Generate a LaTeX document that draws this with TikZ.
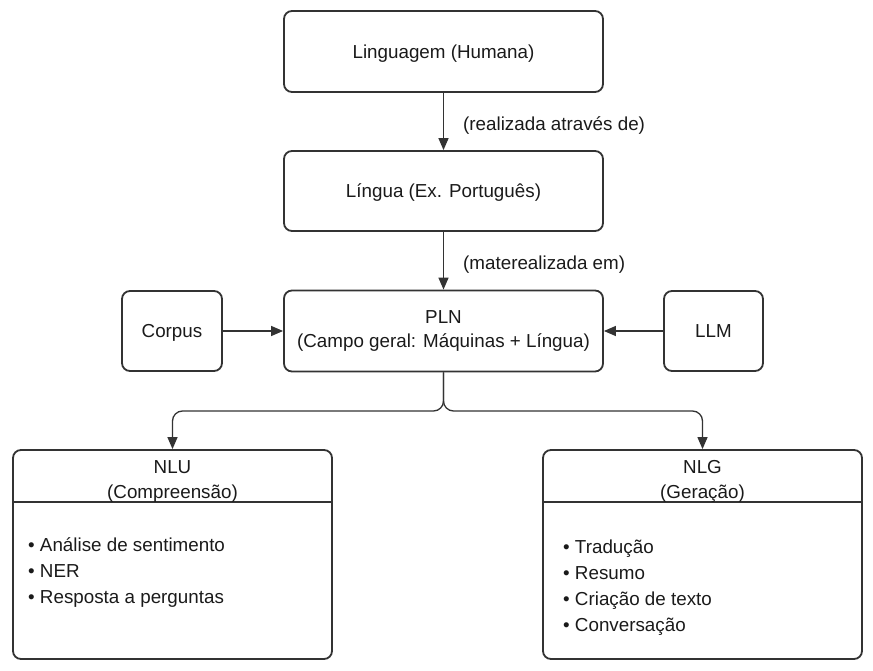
\documentclass[tikz,border=0pt]{standalone}
\usepackage{fontspec}
\setmainfont{Liberation Sans}
\usetikzlibrary{arrows.meta,calc}
\definecolor{strokec}{HTML}{333333}
\definecolor{textc}{HTML}{1A1A1A}
\begin{document}
\begin{tikzpicture}[x=1pt,y=-1pt,
  every node/.style={font=\fontsize{18.8}{24.5}\selectfont, text=textc},
  box/.style={draw=strokec, line width=1.8pt, rounded corners=8pt, inner sep=0pt, align=center},
  onel/.style={text depth=0pt},
  arr/.style={draw=strokec, line width=1.3pt, -{Triangle[length=12pt,width=10pt]}},
  lbl/.style={anchor=west, inner sep=0pt},
  item/.style={anchor=west, inner sep=0pt, align=left, font=\fontsize{18.8}{26}\selectfont}
]
\useasboundingbox (0,0) rectangle (873,671);
% main chain
\node[box, onel, minimum width=319pt, minimum height=81pt] (lang) at (443.5,51.5) {Linguagem (Humana)};
\node[box, onel, minimum width=319pt, minimum height=80pt] (lingua) at (443.5,191) {Língua (Ex. Português)};
\node[box, minimum width=319pt, minimum height=81pt] (pln) at (443.5,331) {PLN\\(Campo geral: Máquinas + Língua)};
\node[box, onel, minimum width=100pt, minimum height=80pt] (corpus) at (172,331) {Corpus};
\node[box, onel, minimum width=99pt, minimum height=80pt] (llm) at (713.5,331) {LLM};
% NLU / NLG
\node[box, minimum width=319pt, minimum height=209pt] (nlu) at (172.5,554.5) {};
\node[box, minimum width=319pt, minimum height=209pt] (nlg) at (702.5,554.5) {};
\draw[strokec, line width=1.8pt] (nlu.west |- 0,502) -- (nlu.east |- 0,502);
\draw[strokec, line width=1.8pt] (nlg.west |- 0,502) -- (nlg.east |- 0,502);
\node[align=center, inner sep=0pt] (nlut) at (172.5,481.5) {NLU\\(Compreensão)};
\node[align=center, inner sep=0pt] (nlgt) at (702.5,481.5) {NLG\\(Geração)};
\node[item] (nlui) at (28,573) {• Análise de sentimento\\• NER\\• Resposta a perguntas};
\node[item] (nlgi) at (563,588) {• Tradução\\• Resumo\\• Criação de texto\\• Conversação};
% connectors
\draw[arr] (lang) -- (lingua);
\draw[arr] (lingua) -- (pln);
\node[lbl] (l1) at (463,126) {(realizada através de)};
\node[lbl] (l2) at (463,265) {(materealizada em)};
\draw[arr] (corpus) -- (pln);
\draw[arr] (llm) -- (pln);
\coordinate (br) at (443.5,411);
\draw[arr, rounded corners=10pt] (pln.south) |- (nlu.north |- br) -- (nlu.north);
\draw[arr, rounded corners=10pt] (pln.south) |- (nlg.north |- br) -- (nlg.north);
\end{tikzpicture}
\end{document}
